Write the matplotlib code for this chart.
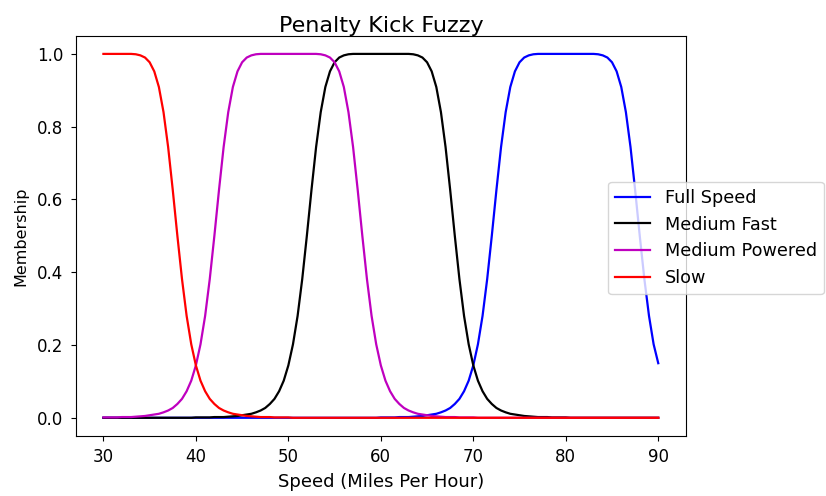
import matplotlib
matplotlib.use("Agg")
import matplotlib.pyplot as plt

# speed samples (mph), every half mile per hour
speed = [30, 30.5, 31, 31.5, 32, 32.5, 33, 33.5, 34, 34.5,
         35, 35.5, 36, 36.5, 37, 37.5, 38, 38.5, 39, 39.5,
         40, 40.5, 41, 41.5, 42, 42.5, 43, 43.5, 44, 44.5,
         45, 45.5, 46, 46.5, 47, 47.5, 48, 48.5, 49, 49.5,
         50, 50.5, 51, 51.5, 52, 52.5, 53, 53.5, 54, 54.5,
         55, 55.5, 56, 56.5, 57, 57.5, 58, 58.5, 59, 59.5,
         60, 60.5, 61, 61.5, 62, 62.5, 63, 63.5, 64, 64.5,
         65, 65.5, 66, 66.5, 67, 67.5, 68, 68.5, 69, 69.5,
         70, 70.5, 71, 71.5, 72, 72.5, 73, 73.5, 74, 74.5,
         75, 75.5, 76, 76.5, 77, 77.5, 78, 78.5, 79, 79.5,
         80, 80.5, 81, 81.5, 82, 82.5, 83, 83.5, 84, 84.5,
         85, 85.5, 86, 86.5, 87, 87.5, 88, 88.5, 89, 89.5,
         90]

slow = [1.000, 1.000, 1.000, 1.000, 1.000, 1.000, 1.000, 0.999, 0.996, 0.990,
        0.977, 0.952, 0.909, 0.840, 0.744, 0.626, 0.500, 0.381, 0.280, 0.202,
        0.144, 0.102, 0.073, 0.052, 0.038, 0.027, 0.020, 0.015, 0.011, 0.009,
        0.007, 0.005, 0.004, 0.003, 0.002, 0.002, 0.002, 0.001, 0.001, 0.001,
        0.001, 0, 0, 0, 0, 0, 0, 0, 0, 0,
        0, 0, 0, 0, 0, 0, 0, 0, 0, 0,
        0, 0, 0, 0, 0, 0, 0, 0, 0, 0,
        0, 0, 0, 0, 0, 0, 0, 0, 0, 0,
        0, 0, 0, 0, 0, 0, 0, 0, 0, 0,
        0, 0, 0, 0, 0, 0, 0, 0, 0, 0,
        0, 0, 0, 0, 0, 0, 0, 0, 0, 0,
        0, 0, 0, 0, 0, 0, 0, 0, 0, 0,
        0]

medium_powered = [0.001, 0.001, 0.001, 0.001, 0.002, 0.002, 0.002, 0.003, 0.004, 0.005,
                  0.007, 0.009, 0.011, 0.015, 0.020, 0.027, 0.038, 0.052, 0.073, 0.102,
                  0.144, 0.202, 0.280, 0.381, 0.500, 0.626, 0.744, 0.840, 0.909, 0.952,
                  0.977, 0.990, 0.996, 0.999, 1.000, 1.000, 1.000, 1.000, 1.000, 1.000,
                  1.000, 1.000, 1.000, 1.000, 1.000, 1.000, 1.000, 0.999, 0.996, 0.990,
                  0.977, 0.952, 0.909, 0.840, 0.744, 0.626, 0.500, 0.381, 0.280, 0.202,
                  0.144, 0.102, 0.073, 0.052, 0.038, 0.027, 0.020, 0.015, 0.011, 0.009,
                  0.007, 0.005, 0.004, 0.003, 0.002, 0.002, 0.002, 0.001, 0.001, 0.001,
                  0.001, 0, 0, 0, 0, 0, 0, 0, 0, 0,
                  0, 0, 0, 0, 0, 0, 0, 0, 0, 0,
                  0, 0, 0, 0, 0, 0, 0, 0, 0, 0,
                  0, 0, 0, 0, 0, 0, 0, 0, 0, 0,
                  0]

medium_fast = [0, 0, 0, 0, 0, 0, 0, 0, 0, 0,
               0, 0, 0, 0, 0, 0, 0, 0, 0, 0,
               0.001, 0.001, 0.001, 0.001, 0.002, 0.002, 0.002, 0.003, 0.004, 0.005,
               0.007, 0.009, 0.011, 0.015, 0.020, 0.027, 0.038, 0.052, 0.073, 0.102,
               0.144, 0.202, 0.280, 0.381, 0.500, 0.626, 0.744, 0.840, 0.909, 0.952,
               0.977, 0.990, 0.996, 0.999, 1.000, 1.000, 1.000, 1.000, 1.000, 1.000,
               1.000, 1.000, 1.000, 1.000, 1.000, 1.000, 1.000, 0.999, 0.996, 0.990,
               0.977, 0.952, 0.909, 0.840, 0.744, 0.626, 0.500, 0.381, 0.280, 0.202,
               0.144, 0.102, 0.073, 0.052, 0.038, 0.027, 0.020, 0.015, 0.011, 0.009,
               0.007, 0.005, 0.004, 0.003, 0.002, 0.002, 0.002, 0.001, 0.001, 0.001,
               0.001, 0, 0, 0, 0, 0, 0, 0, 0, 0,
               0, 0, 0, 0, 0, 0, 0, 0, 0, 0,
               0]

full_speed = [0, 0, 0, 0, 0, 0, 0, 0, 0, 0,
              0, 0, 0, 0, 0, 0, 0, 0, 0, 0,
              0, 0, 0, 0, 0, 0, 0, 0, 0, 0,
              0, 0, 0, 0, 0, 0, 0, 0, 0, 0,
              0, 0, 0, 0, 0, 0, 0, 0, 0, 0,
              0, 0, 0, 0, 0, 0, 0, 0, 0, 0,
              0.001, 0.001, 0.001, 0.001, 0.002, 0.002, 0.002, 0.003, 0.004, 0.005,
              0.007, 0.009, 0.011, 0.015, 0.020, 0.027, 0.038, 0.052, 0.073, 0.102,
              0.144, 0.202, 0.280, 0.381, 0.500, 0.626, 0.744, 0.840, 0.909, 0.952,
              0.977, 0.990, 0.996, 0.999, 1.000, 1.000, 1.000, 1.000, 1.000, 1.000,
              1.000, 1.000, 1.000, 1.000, 1.000, 1.000, 1.000, 0.999, 0.996, 0.990,
              0.977, 0.952, 0.909, 0.840, 0.744, 0.626, 0.500, 0.381, 0.280, 0.202,
              0.150]

fig = plt.figure(figsize=(8.26, 4.96), dpi=100)
ax = fig.add_axes([0.0916, 0.121, 0.7389, 0.807])

ax.plot(speed, full_speed, 'b', lw=1.6, label='Full Speed')
ax.plot(speed, medium_fast, 'k', lw=1.6, label='Medium Fast')
ax.plot(speed, medium_powered, 'm', lw=1.6, label='Medium Powered')
ax.plot(speed, slow, 'r', lw=1.6, label='Slow')

ax.set_title('Penalty Kick Fuzzy', fontsize=16, pad=3)
ax.set_xlabel('Speed (Miles Per Hour)', fontsize=13, labelpad=5)
ax.set_ylabel('Membership', fontsize=11.5, labelpad=6)
ax.tick_params(labelsize=12, pad=5.5)
ax.set_xticks([30, 40, 50, 60, 70, 80, 90])

ax.legend(loc='center left', bbox_to_anchor=(0.858, 0.4946), fontsize=12.7)

fig.savefig('out.png', dpi=100)
